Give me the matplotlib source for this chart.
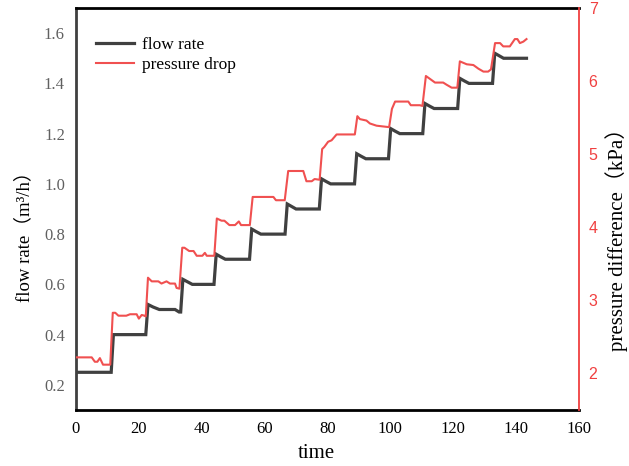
import matplotlib
matplotlib.use("Agg")
import matplotlib.pyplot as plt

# Flow rate record (time, m3/h) - vertices of the stepped trace
flow_time = [0, 11.2, 11.9, 22.2, 22.9, 24.5, 26.5, 31.5, 32.8, 33.3,
             34.0, 35.5, 37.0, 43.9, 44.6, 46.0, 47.5, 55.2, 55.9, 57.3,
             58.8, 66.5, 67.2, 68.6, 70.0, 77.4, 78.1, 79.5, 81.0, 88.6,
             89.3, 90.7, 92.2, 99.4, 100.1, 101.5, 103.0, 110.3, 111.0, 112.4,
             113.9, 121.4, 122.1, 123.5, 125.0, 132.5, 133.2, 134.6, 136.0, 143.3]
flow_rate = [0.25, 0.25, 0.40, 0.40, 0.52, 0.51, 0.50, 0.50, 0.49, 0.49,
             0.62, 0.61, 0.60, 0.60, 0.72, 0.71, 0.70, 0.70, 0.82, 0.81,
             0.80, 0.80, 0.92, 0.91, 0.90, 0.90, 1.02, 1.01, 1.00, 1.00,
             1.12, 1.11, 1.10, 1.10, 1.22, 1.21, 1.20, 1.20, 1.32, 1.31,
             1.30, 1.30, 1.42, 1.41, 1.40, 1.40, 1.52, 1.51, 1.50, 1.50]

# Pressure drop record (time, kPa)
dp_time = [0, 5.0, 6.0, 6.8, 7.6, 8.6, 10.9,
           11.7, 12.5, 13.5, 16.0, 17.2, 19.3, 20.0, 20.9, 21.8, 22.2,
           22.9, 24.1, 26.2, 27.2, 28.8, 29.9, 31.5, 32.0, 32.9,
           33.8, 34.5, 36.0, 37.4, 38.4, 40.2, 41.0, 41.6, 44.0,
           44.8, 46.3, 47.2, 48.8, 50.6, 51.8, 52.5, 55.3,
           56.2, 62.8, 63.6, 66.4,
           67.5, 72.3, 73.3, 75.0, 75.9, 77.5,
           78.3, 79.0, 80.2, 81.3, 82.9, 88.7,
           89.5, 90.3, 92.4, 93.5, 95.6, 99.6,
           100.5, 101.5, 105.7, 106.5, 109.4, 110.2,
           111.3, 112.6, 114.2, 116.8, 117.9, 119.5, 121.3,
           122.1, 124.3, 126.4, 128.0, 129.6, 131.1, 132.0,
           133.3, 134.9, 135.9, 138.0, 139.6, 140.4, 141.2, 142.3, 143.3]
dp_value = [2.22, 2.22, 2.16, 2.16, 2.21, 2.12, 2.12,
            2.83, 2.83, 2.79, 2.79, 2.81, 2.81, 2.75, 2.80, 2.79, 2.78,
            3.31, 3.26, 3.26, 3.23, 3.26, 3.23, 3.23, 3.17, 3.16,
            3.72, 3.72, 3.675, 3.675, 3.61, 3.61, 3.65, 3.61, 3.61,
            4.12, 4.09, 4.09, 4.03, 4.03, 4.08, 4.03, 4.03,
            4.415, 4.415, 4.37, 4.37,
            4.77, 4.77, 4.63, 4.63, 4.66, 4.65,
            5.07, 5.10, 5.17, 5.19, 5.27, 5.27,
            5.52, 5.48, 5.46, 5.42, 5.39, 5.37,
            5.62, 5.72, 5.72, 5.67, 5.67, 5.66,
            6.07, 6.03, 5.98, 5.98, 5.95, 5.91, 5.91,
            6.27, 6.23, 6.22, 6.17, 6.13, 6.13, 6.16,
            6.52, 6.52, 6.475, 6.475, 6.575, 6.575, 6.52, 6.54, 6.575]

x_ticks = [0, 20, 40, 60, 80, 100, 120, 140, 160]
flow_ticks = [0.2, 0.4, 0.6, 0.8, 1.0, 1.2, 1.4, 1.6]
dp_ticks = [2, 3, 4, 5, 6, 7]

SERIF = ["Liberation Serif", "Noto Sans CJK SC"]
BLACK = "#404040"
RED = "#f05050"

fig = plt.figure(figsize=(6.29, 4.66), dpi=100)
ax = fig.add_axes([0.1208, 0.1202, 0.7997, 0.8626])
ax2 = ax.twinx()

l1, = ax.plot(flow_time, flow_rate, color=BLACK, lw=2.3, label="flow rate",
              solid_joinstyle="miter")
l2, = ax2.plot(dp_time, dp_value, color=RED, lw=1.5, label="pressure drop")

ax.set_xlim(0, 160)
ax.set_ylim(0.1, 1.7)
ax2.set_ylim(1.5, 7)

ax.set_xticks(x_ticks)
ax.set_xticklabels([str(v) for v in x_ticks], family=SERIF, fontsize=12, color="black")
ax.set_yticks(flow_ticks)
ax.set_yticklabels([f"{v:.1f}" for v in flow_ticks], family=SERIF, fontsize=12, color="#606060")
ax2.set_yticks(dp_ticks)
ax2.set_yticklabels([str(v) for v in dp_ticks], family="Liberation Sans", fontsize=11.5, color="#f04040")

ax.tick_params(axis="both", length=0, pad=8)
ax2.tick_params(axis="y", length=0, pad=7)

for side in ("top", "bottom"):
    ax.spines[side].set_linewidth(2.0)
    ax.spines[side].set_color("black")
ax.spines["left"].set_linewidth(2.0)
ax.spines["left"].set_color("#404040")
ax.spines["right"].set_visible(False)
for side in ("top", "bottom", "left"):
    ax2.spines[side].set_visible(False)
ax2.spines["right"].set_linewidth(1.3)
ax2.spines["right"].set_color("#f04040")

ax.set_xlabel("time", family=SERIF, fontsize=15)
ax.xaxis.set_label_coords(0.477, -0.085)
ax.set_ylabel("flow rate（m³/h）", family=SERIF, fontsize=13.5)
ax.yaxis.set_label_coords(-0.085, 0.443)
ax2.set_ylabel("pressure difference（kPa）", family=SERIF, fontsize=15)
ax2.yaxis.set_label_coords(1.052, 0.437)

ax.legend([l1, l2], ["flow rate", "pressure drop"], loc="upper left",
          bbox_to_anchor=(0.04, 0.928), frameon=False, borderpad=0,
          borderaxespad=0, handlelength=2.2, handletextpad=0.45,
          labelspacing=0.2, prop={"family": SERIF, "size": 12.5})

fig.savefig("out.png", dpi=100)
